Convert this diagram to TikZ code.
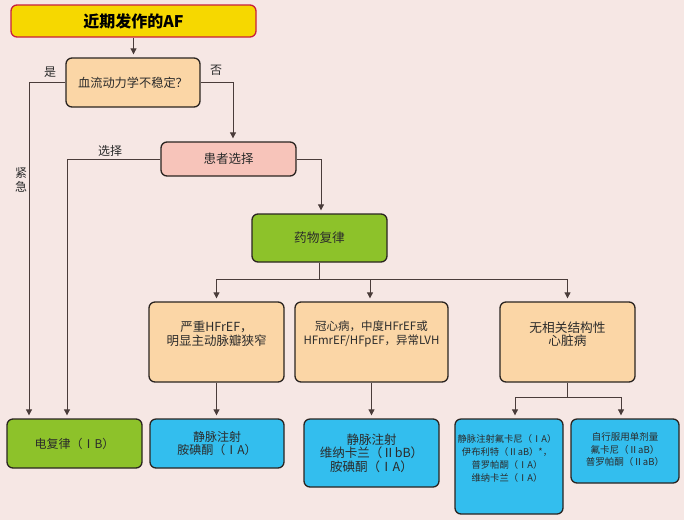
\documentclass[tikz,border=0pt]{standalone}
\usepackage{fontspec}
\setmainfont{Noto Sans CJK SC}
\usetikzlibrary{arrows.meta}
\definecolor{bgc}{HTML}{F6E7E4}
\definecolor{yel}{HTML}{F6D800}
\definecolor{redc}{HTML}{C8203C}
\definecolor{peach}{HTML}{FBD6A6}
\definecolor{pinkc}{HTML}{F7C4BA}
\definecolor{greenc}{HTML}{8DC22A}
\definecolor{bluec}{HTML}{33BEEE}
\definecolor{linec}{HTML}{4A3C3A}
\definecolor{bordc}{HTML}{2A2420}
\definecolor{textc}{HTML}{2B2B2B}
\begin{document}
\begin{tikzpicture}[x=1pt,y=-1pt,
  box/.style={draw=bordc, line width=1.3pt, rounded corners=6pt, inner sep=0pt},
  conn/.style={draw=linec, line width=0.8pt},
  arr/.style={conn, -{Triangle[length=6pt,width=6pt]}, shorten >=3pt},
  txt/.style={align=center, text=textc, inner sep=0pt},
  lbl/.style={text=textc, font=\fontsize{12}{14}\selectfont, inner sep=0pt}]
\fill[bgc] (0,0) rectangle (684,520);
\useasboundingbox (0,0) rectangle (684,520);

% boxes
\node[box, fill=yel, draw=redc, minimum width=245, minimum height=32, font=\fontsize{16}{18}\selectfont\bfseries] (af) at (133.5,21) {近期发作的AF};
\node[box, fill=peach, minimum width=134, minimum height=49, txt, font=\fontsize{12.2}{14}\selectfont] (dec) at (133,82.5) {血流动力学不稳定？};
\node[box, fill=pinkc, minimum width=135, minimum height=34, txt, font=\fontsize{12.5}{14}\selectfont] (pc) at (228.5,159) {患者选择};
\node[box, fill=greenc, minimum width=135, minimum height=48, txt, font=\fontsize{12.7}{14}\selectfont] (drug) at (319.5,238) {药物复律};

\node[box, fill=peach, minimum width=135, minimum height=80] (b1) at (216.5,342) {};
\node[box, fill=peach, minimum width=153, minimum height=80] (b2) at (371.5,342) {};
\node[box, fill=peach, minimum width=135, minimum height=80] (b3) at (567.5,342) {};
\node[txt, font=\fontsize{12.5}{13.5}\selectfont] (b1t) at (216.5,334) {严重HFrEF，\\明显主动脉瓣狭窄};
\node[txt, font=\fontsize{11.5}{13.5}\selectfont] (b2t) at (371.5,334) {冠心病，中度HFrEF或\\HFmrEF/HFpEF，异常LVH};
\node[txt, font=\fontsize{12.7}{13.5}\selectfont] (b3t) at (567.5,334) {无相关结构性\\心脏病};

\node[box, fill=greenc, minimum width=135, minimum height=49, txt, font=\fontsize{12}{14}\selectfont] (ecv) at (74.5,443.5) {电复律（ⅠB）};
\node[box, fill=bluec, minimum width=134, minimum height=49, txt, font=\fontsize{12}{13}\selectfont] (r1) at (217,443.5) {静脉注射\\胺碘酮（ⅠA）};
\node[box, fill=bluec, minimum width=135, minimum height=68, txt, font=\fontsize{12.5}{13.5}\selectfont] (r2) at (371.5,453) {静脉注射\\维纳卡兰（ⅡbB）\\胺碘酮（ⅠA）};
\node[box, fill=bluec, minimum width=108, minimum height=95] (r3) at (509,466.5) {};
\node[box, fill=bluec, minimum width=108, minimum height=64] (r4) at (625,451) {};
\node[txt, font=\fontsize{9.3}{13}\selectfont] (r3t) at (507,458.5) {静脉注射氟卡尼（ⅠA）\\伊布利特（ⅡaB）*，\\普罗帕酮（ⅠA）\\维纳卡兰（ⅠA）};
\node[txt, font=\fontsize{9.5}{12.5}\selectfont] (r4t) at (625,449.5) {自行服用单剂量\\氟卡尼（ⅡaB）\\普罗帕酮（ⅡaB）};

% labels
\node[lbl] (yes) at (50,72) {是};
\node[lbl] (no) at (216,70) {否};
\node[lbl] (sel) at (110,151) {选择};
\node[lbl] (urg1) at (21,173) {紧};
\node[lbl] (urg2) at (21,187) {急};

% connectors
\draw[arr] (af.south) -- (af.south |- dec.north);
\draw[arr] (dec.west) -| ([xshift=-45.5]ecv.north);
\draw[arr] (dec.east) -| ([xshift=4.5]pc.north);
\draw[arr] (pc.west) -| ([xshift=-7.5]ecv.north);
\draw[arr] (pc.east) -| ([xshift=1.5]drug.north);
\coordinate (bus) at (319.5,279);
\draw[conn] (drug.south) -- (bus);
\draw[arr] (bus) -| (b1.north);
\draw[arr] (bus) -| ([xshift=-1.5]b2.north);
\draw[arr] (bus) -| (b3.north);
\draw[arr] (b1.south) -- (b1.south |- r1.north);
\draw[arr] (b2.south) -- (b2.south |- r2.north);
\coordinate (bus2) at (567.5,397);
\draw[conn] (b3.south) -- (bus2);
\draw[arr] (bus2) -| ([xshift=6]r3.north);
\draw[arr] (bus2) -| ([xshift=-4]r4.north);
\end{tikzpicture}
\end{document}
